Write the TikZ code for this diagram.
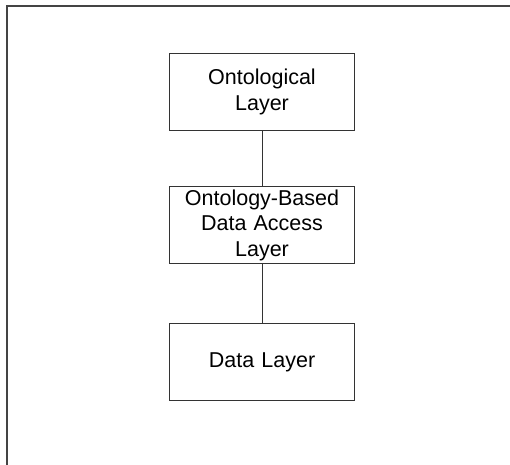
\documentclass[tikz,border=0pt]{standalone}
\usepackage{fontspec}
\setmainfont{Liberation Sans}
\usepackage{xcolor}
\usepackage{tikz}
\usetikzlibrary{positioning}
\definecolor{dark}{HTML}{333333}
\definecolor{framegray}{HTML}{444444}
\tikzset{
    layerbox/.style={
        rectangle, draw=dark, fill=white,
        minimum width=185pt, minimum height=77pt,
        text width=180pt, align=center, inner sep=0pt,
        font=\fontsize{21.5}{25.5}\selectfont, text=black,
        line width=1pt
    },
    layerlink/.style={
        line width=1pt, color=dark
    },
    frameline/.style={
        line width=1.6pt, color=framegray
    },
}
\begin{document}
\begin{tikzpicture}
    \useasboundingbox (0,0) rectangle (510pt,-464pt);

    % Outer frame (only top and left edges show)
    \coordinate (framebl) at (7pt,-470pt);
    \coordinate (frametl) at (7pt,-6pt);
    \coordinate (frametr) at (516pt,-6pt);
    \draw[frameline] (framebl) -- (frametl) -- (frametr);

    % Layers
    \node[layerbox, anchor=north west] (ontology) at (169pt,-53pt) {Ontological\\Layer};
    \node[layerbox, below=55pt of ontology] (obda) {Ontology-Based\\Data Access\\Layer};
    \node[layerbox, below=59pt of obda] (data) {Data Layer};

    % Links
    \draw[layerlink] (ontology) -- (obda);
    \draw[layerlink] (obda) -- (data);

\end{tikzpicture}
\end{document}
